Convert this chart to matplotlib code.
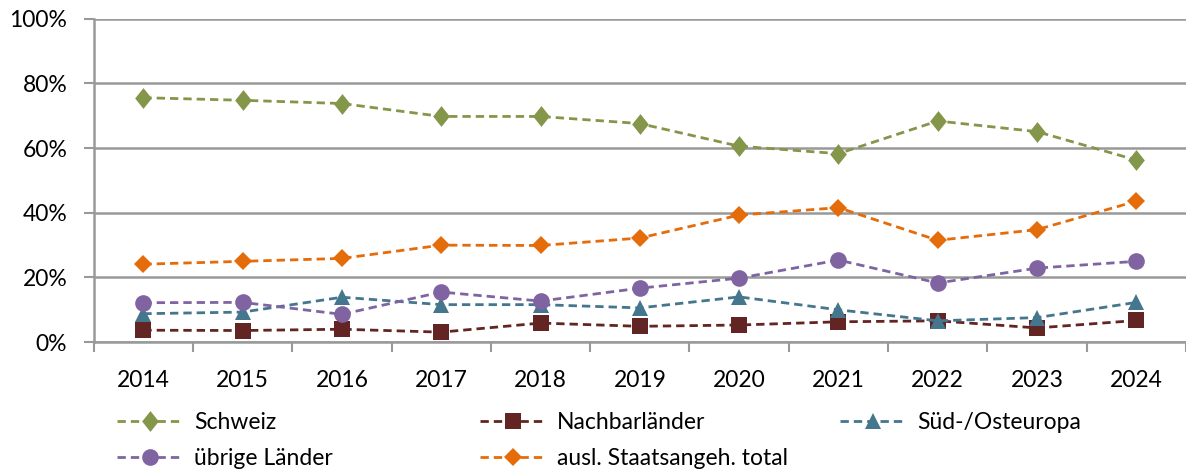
import matplotlib
matplotlib.use("Agg")
import matplotlib.pyplot as plt
from matplotlib.ticker import FuncFormatter
import numpy as np

plt.rcParams['font.family'] = ['Lato', 'DejaVu Sans']

jahre = ['2014', '2015', '2016', '2017', '2018', '2019', '2020', '2021', '2022', '2023', '2024']
schweiz = [75.6, 74.8, 73.8, 69.8, 69.8, 67.6, 60.6, 58.3, 68.4, 65.1, 56.3]
nachbar = [3.7, 3.6, 4.0, 3.1, 5.9, 4.9, 5.3, 6.3, 6.6, 4.4, 6.7]
sued_ost = [8.8, 9.3, 13.9, 11.6, 11.6, 10.6, 14.0, 10.0, 6.6, 7.6, 12.3]
uebrige = [12.2, 12.3, 8.6, 15.5, 12.7, 16.7, 19.8, 25.4, 18.3, 22.9, 25.0]
ausl_total = [24.1, 25.0, 25.9, 30.0, 29.9, 32.2, 39.3, 41.6, 31.5, 34.8, 43.6]
namen = ['Schweiz', 'Nachbarländer', 'Süd-/Osteuropa', 'übrige Länder', 'ausl. Staatsangeh. total']

farben = ['#84964A', '#632523', '#44768E', '#8064A2', '#E46C0A']
raute = [(-0.4, 0), (0, 0.5), (0.4, 0), (0, -0.5)]
marker = [raute, 's', '^', 'o', 'D']
msize = [15, 11, 12, 12, 9]

fig = plt.figure(figsize=(11.86, 4.70), dpi=100)
ax = fig.add_axes([0.079, 0.272, 0.921, 0.688])

x = np.arange(len(jahre))
serien = [schweiz, nachbar, sued_ost, uebrige, ausl_total]
linien = []
for werte, name, c, m, ms in zip(serien, namen, farben, marker, msize):
    l, = ax.plot(x, werte, color=c, linestyle=(0, (3, 1.8)), linewidth=2,
                 marker=m, markersize=ms, markeredgewidth=0, label=name, zorder=3)
    linien.append(l)

ax.set_xlim(-0.5, len(jahre) - 0.5)
ax.set_ylim(0, 100)
ax.set_yticks(np.arange(0, 101, 20))
ax.yaxis.set_major_formatter(FuncFormatter(lambda v, p: f'{int(v)}%'))
ax.grid(axis='y', color='#999999', linewidth=1.8, zorder=0)

ax.set_xticks(x)
ax.set_xticklabels(jahre)
ax.set_xticks(np.arange(-0.5, len(jahre), 1), minor=True)
ax.tick_params(axis='x', which='major', length=0, pad=20, labelsize=16.5)
ax.tick_params(axis='x', which='minor', length=7, width=1.5, color='#999999')
ax.tick_params(axis='y', length=7, width=1.5, color='#999999', labelsize=16.5, pad=12)

for s in ['top', 'right']:
    ax.spines[s].set_visible(False)
for s in ['left', 'bottom']:
    ax.spines[s].set_color('#999999')
    ax.spines[s].set_linewidth(1.8)

# Legende: drei Spalten mit festen Positionen, zeilenweise gefuellt
spalten = [[0, 3], [1, 4], [2]]
spalten_x = [117, 480, 840]
for idx, sx in zip(spalten, spalten_x):
    leg = fig.legend([linien[i] for i in idx], [namen[i] for i in idx],
                     loc='upper left', bbox_to_anchor=(sx / 1186, 0.124),
                     frameon=False, fontsize=16.5, handlelength=2.85,
                     handletextpad=0.5, labelspacing=0.65, borderpad=0,
                     borderaxespad=0)

fig.savefig('out.png', dpi=100)
